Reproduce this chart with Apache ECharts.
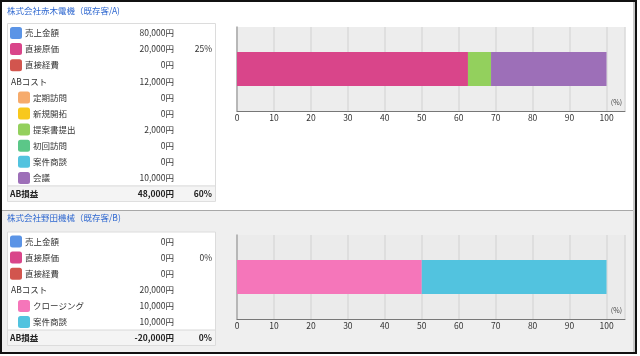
<!DOCTYPE html>
<html><head><meta charset="utf-8">
<script src="https://cdn.jsdelivr.net/npm/echarts@6/dist/echarts.min.js"></script>
<style>
html,body{margin:0;padding:0;background:#fff;}
#frame{position:absolute;left:0;top:0;width:637px;height:354px;box-sizing:border-box;border:2px solid #111;background:#fff;overflow:hidden;}
#lower{position:absolute;left:0;right:0;top:208px;bottom:0;background:#efefef;border-top:1px solid #a8a8a8;}
#rside{position:absolute;right:0;top:0;bottom:0;width:2px;background:#c8c8c8;}
#chart{position:absolute;left:0;top:0;width:640px;height:356px;}
</style></head>
<body>
<div id="frame"><div id="lower"></div><div id="rside"></div></div>
<div id="chart"></div>
<script>
// ---- data ----
const titleA = '株式会社赤木電機（既存客/A)';
const labelsA = ['売上金額','直接原価','直接経費','ABコスト','定期訪問','新規開拓','提案書提出','初回訪問','案件商談','会議'];
const valuesA = [80000,20000,0,12000,0,0,2000,0,0,10000];
const levelsA = [0,0,0,0,1,1,1,1,1,1];
const costRatioA = '25%';
const profitA = 48000;
const profitPctA = '60%';

const titleB = '株式会社野田機械（既存客/B)';
const labelsB = ['売上金額','直接原価','直接経費','ABコスト','クロージング','案件商談'];
const valuesB = [0,0,0,20000,10000,10000];
const levelsB = [0,0,0,0,1,1];
const costRatioB = '0%';
const profitB = -20000;
const profitPctB = '0%';

const xTicks = [0,10,20,30,40,50,60,70,80,90,100];

// ---- styles ----
const colorMap = {
  '売上金額':'#5b94e6','直接原価':'#d9458a','直接経費':'#d2554e',
  '定期訪問':'#f6ab6c','新規開拓':'#f8c81c','提案書提出':'#93d05d',
  '初回訪問':'#5bc788','案件商談':'#52c3df','会議':'#9d6fb8','クロージング':'#f576ba'
};
const FONT = "'Noto Sans CJK JP','Noto Sans',sans-serif";
const FS = 8.5;
const TXT = '#333';

function fmt(v){ return (v<0?'-':'') + Math.abs(v).toLocaleString('en-US') + '円'; }

function buildTable(title, labels, values, levels, costRatio, profit, profitPct, titleY, boxTop){
  const els = [];
  const step = 16.1;
  const n = labels.length;
  const rowY = i => boxTop + 9.5 + step*i;
  const sep = rowY(n-1) + 8;
  const boxBottom = sep + 15.5;
  els.push({type:'text', style:{x:7,y:titleY,text:title, fill:'#2f68d0', font:FS+'px '+FONT, textVerticalAlign:'middle'}});
  els.push({type:'rect', shape:{x:7.5,y:boxTop,width:208,height:boxBottom-boxTop}, style:{fill:'#fff',stroke:'#dcdcdc',lineWidth:1}});
  els.push({type:'rect', shape:{x:8,y:sep,width:207,height:boxBottom-sep-0.5}, style:{fill:'#f4f4f4'}});
  els.push({type:'line', shape:{x1:8,y1:sep,x2:215,y2:sep}, style:{stroke:'#d8d8d8',lineWidth:1}});
  labels.forEach((lab,i)=>{
    const y = rowY(i);
    const c = colorMap[lab];
    let tx = 11;
    if (c){
      const sx = levels[i] ? 18 : 10;
      els.push({type:'rect', shape:{x:sx,y:y-6,width:12,height:12,r:2.5}, style:{fill:c}});
      tx = sx + 15;
    }
    els.push({type:'text', style:{x:tx,y:y,text:lab,fill:TXT,font:FS+'px '+FONT,textVerticalAlign:'middle'}});
    els.push({type:'text', style:{x:174,y:y,text:fmt(values[i]),fill:TXT,font:FS+'px '+FONT,textAlign:'right',textVerticalAlign:'middle'}});
    if (lab==='直接原価'){
      els.push({type:'text', style:{x:212,y:y,text:costRatio,fill:TXT,font:FS+'px '+FONT,textAlign:'right',textVerticalAlign:'middle'}});
    }
  });
  const py = sep + 7.5;
  els.push({type:'text', style:{x:10,y:py,text:'AB損益',fill:'#222',font:'bold '+FS+'px '+FONT,textVerticalAlign:'middle'}});
  els.push({type:'text', style:{x:174,y:py,text:fmt(profit),fill:'#222',font:'bold '+FS+'px '+FONT,textAlign:'right',textVerticalAlign:'middle'}});
  els.push({type:'text', style:{x:212,y:py,text:profitPct,fill:'#222',font:'bold '+FS+'px '+FONT,textAlign:'right',textVerticalAlign:'middle'}});
  return els;
}

function barSeries(labels, values, axisIdx, stack){
  const skip = ['売上金額','ABコスト'];
  const items = labels.map((l,i)=>({l, v:values[i]})).filter(d=>!skip.includes(d.l) && d.v>0);
  const total = items.reduce((s,d)=>s+d.v,0);
  return items.map(d=>({
    type:'bar', name:d.l+stack, stack:stack, xAxisIndex:axisIdx, yAxisIndex:axisIdx,
    barWidth:34, data:[d.v/total*100],
    itemStyle:{color:colorMap[d.l]}, silent:true
  }));
}

function xAxisCfg(gi){
  return {
    type:'value', gridIndex:gi, min:xTicks[0], max:105, interval:xTicks[1]-xTicks[0],
    axisLabel:{showMaxLabel:false, fontSize:FS, color:TXT, margin:3, fontFamily:FONT},
    axisLine:{show:true, lineStyle:{color:'#777',width:1}},
    axisTick:{show:false},
    splitLine:{show:true, lineStyle:{color:'#dadada',width:1.5}}
  };
}
function yAxisCfg(gi){
  return {
    type:'category', gridIndex:gi, data:['x'],
    axisLabel:{show:false}, axisTick:{show:false},
    axisLine:{show:true, lineStyle:{color:'#aaa',width:1.5}},
    splitLine:{show:false}
  };
}

const chart = echarts.init(document.getElementById('chart'), null, {renderer:'canvas'});
const graphics = []
  .concat(buildTable(titleA, labelsA, valuesA, levelsA, costRatioA, profitA, profitPctA, 11, 23.5))
  .concat(buildTable(titleB, labelsB, valuesB, levelsB, costRatioB, profitB, profitPctB, 218, 232));
graphics.push({type:'text', style:{x:622,y:102,text:'(%)',fill:'#444',font:'7px '+FONT,textAlign:'right',textVerticalAlign:'middle'}});
graphics.push({type:'text', style:{x:622,y:310,text:'(%)',fill:'#444',font:'7px '+FONT,textAlign:'right',textVerticalAlign:'middle'}});

chart.setOption({
  animation:false,
  backgroundColor:'transparent',
  grid:[
    {left:237, top:27, width:388, height:84, show:true, backgroundColor:'#ededed', borderWidth:0},
    {left:237, top:235, width:388, height:84, show:true, backgroundColor:'#ebebeb', borderWidth:0}
  ],
  xAxis:[xAxisCfg(0), xAxisCfg(1)],
  yAxis:[yAxisCfg(0), yAxisCfg(1)],
  series: barSeries(labelsA, valuesA, 0, 'A').concat(barSeries(labelsB, valuesB, 1, 'B')),
  graphic: graphics
});
</script>
</body></html>
